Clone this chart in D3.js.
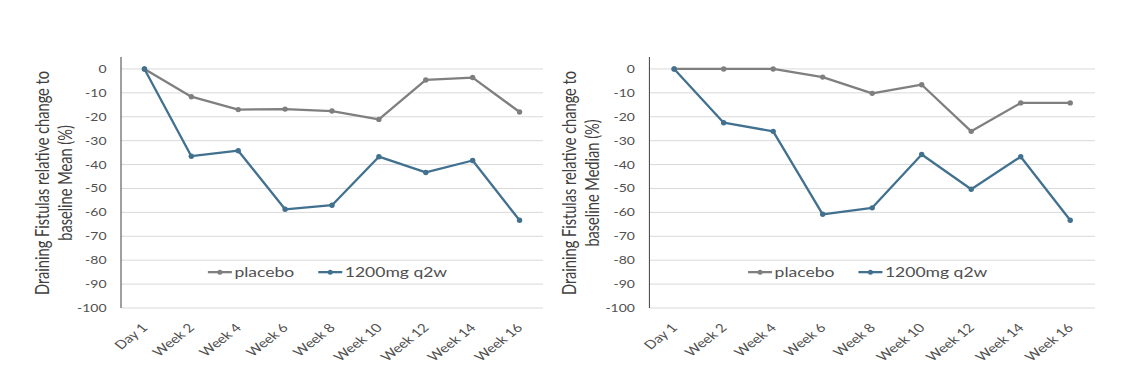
<!DOCTYPE html>
<html><head><meta charset="utf-8">
<script src="https://cdn.jsdelivr.net/npm/d3@7"></script>
<style>body{margin:0;background:#fff}svg{display:block}</style></head>
<body><svg id="c" width="1132" height="380"></svg>
<script>
const categories = ["Day 1","Week 2","Week 4","Week 6","Week 8","Week 10","Week 12","Week 14","Week 16"];
const meanPlacebo = [0,-11.6,-17.0,-16.8,-17.6,-21.1,-4.6,-3.6,-18.0];
const meanTreatment = [0,-36.5,-34.2,-58.7,-57.0,-36.7,-43.3,-38.3,-63.3];
const medianPlacebo = [0,0,0,-3.4,-10.2,-6.6,-26.1,-14.2,-14.2];
const medianTreatment = [0,-22.5,-26.1,-60.8,-58.1,-35.8,-50.3,-36.7,-63.3];
const yTicks = [0,-10,-20,-30,-40,-50,-60,-70,-80,-90,-100];
const seriesNames = ["placebo","1200mg q2w"];
const titleMean = ["Draining Fistulas relative change to","baseline Mean (%)"];
const titleMedian = ["Draining Fistulas relative change to","baseline Median (%)"];

const colors = ["#7f7f7f","#41718f"];
const S = 1.27; // horizontal text stretch seen in the source image
const FONT = "Lato, 'Liberation Sans', sans-serif";
const svg = d3.select("#c");

const panels = [
  {left:121, right:543, titleX:60.5, series:[meanPlacebo, meanTreatment], title:titleMean},
  {left:649.4, right:1095, titleX:587.5, series:[medianPlacebo, medianTreatment], title:titleMedian}
];

panels.forEach(p => {
  const x = d3.scalePoint().domain(categories).range([p.left, p.right]).padding(0.5);
  const y = d3.scaleLinear().domain([5,-100]).range([57,308]);
  const g = svg.append("g");

  // gridlines
  g.append("g").selectAll("line").data(yTicks).join("line")
    .attr("x1", p.left).attr("x2", p.right)
    .attr("y1", d => y(d)).attr("y2", d => y(d))
    .attr("stroke", "#d9d9d9").attr("stroke-width", 1);

  // y axis line
  g.append("line").attr("x1", p.left).attr("x2", p.left)
    .attr("y1", y.range()[0]).attr("y2", y(-100))
    .attr("stroke", "#404040").attr("stroke-width", 1);

  // y tick labels
  g.append("g").selectAll("text").data(yTicks).join("text")
    .attr("transform", d => `translate(${p.left-14.5},${y(d)+4}) scale(${S},1)`)
    .attr("text-anchor", "end").attr("font-family", FONT).attr("font-size", 11)
    .attr("fill", "#505050").text(d => d);

  // x tick labels
  g.append("g").selectAll("text").data(categories).join("text")
    .attr("transform", d => `translate(${x(d)+4},${y(-100)+20.5}) scale(${S},1) rotate(-45)`)
    .attr("text-anchor", "end").attr("font-family", FONT).attr("font-size", 12)
    .attr("fill", "#505050").text(d => d);

  // y title
  const tg = g.append("g").attr("transform", `translate(${p.titleX},183) scale(${S},1) rotate(-90)`);
  tg.selectAll("text").data(p.title).join("text")
    .attr("x", 0).attr("y", (d,i) => (i === 0 ? -8.8 : 8.8))
    .attr("text-anchor", "middle").attr("font-family", FONT).attr("font-size", 14.6)
    .attr("fill", "#404040").text(d => d);

  // lines
  const line = d3.line().x((d,i) => x(categories[i])).y(d => y(d));
  p.series.forEach((vals, si) => {
    g.append("path").datum(vals).attr("d", line)
      .attr("fill", "none").attr("stroke", colors[si]).attr("stroke-width", 2.3)
      .attr("stroke-linejoin", "round");
    g.append("g").selectAll("circle").data(vals).join("circle")
      .attr("cx", (d,i) => x(categories[i])).attr("cy", d => y(d))
      .attr("r", 2.7).attr("fill", colors[si]);
  });

  // legend
  const lg = g.append("g");
  const items = lg.selectAll("g").data(seriesNames).join("g");
  items.append("line").attr("x1", 0).attr("x2", 24).attr("y1", 0).attr("y2", 0)
    .attr("stroke", (d,i) => colors[i]).attr("stroke-width", 2.3);
  items.append("circle").attr("cx", 12).attr("cy", 0).attr("r", 2.5).attr("fill", (d,i) => colors[i]);
  items.append("text").attr("transform", `translate(26.5,4.8) scale(${S},1)`)
    .attr("font-family", FONT).attr("font-size", 13.8).attr("fill", "#505050").text(d => d);
  let off = 0;
  items.each(function(d) {
    const tw = d3.select(this).select("text").node().getComputedTextLength() * S;
    d3.select(this).attr("transform", `translate(${off},0)`);
    off += 26.5 + tw + 24;
  });
  const total = off - 24;
  const cx = (p.left + p.right) / 2 - 4.5;
  lg.attr("transform", `translate(${cx - total/2},${y(-85)})`);
});
</script></body></html>
